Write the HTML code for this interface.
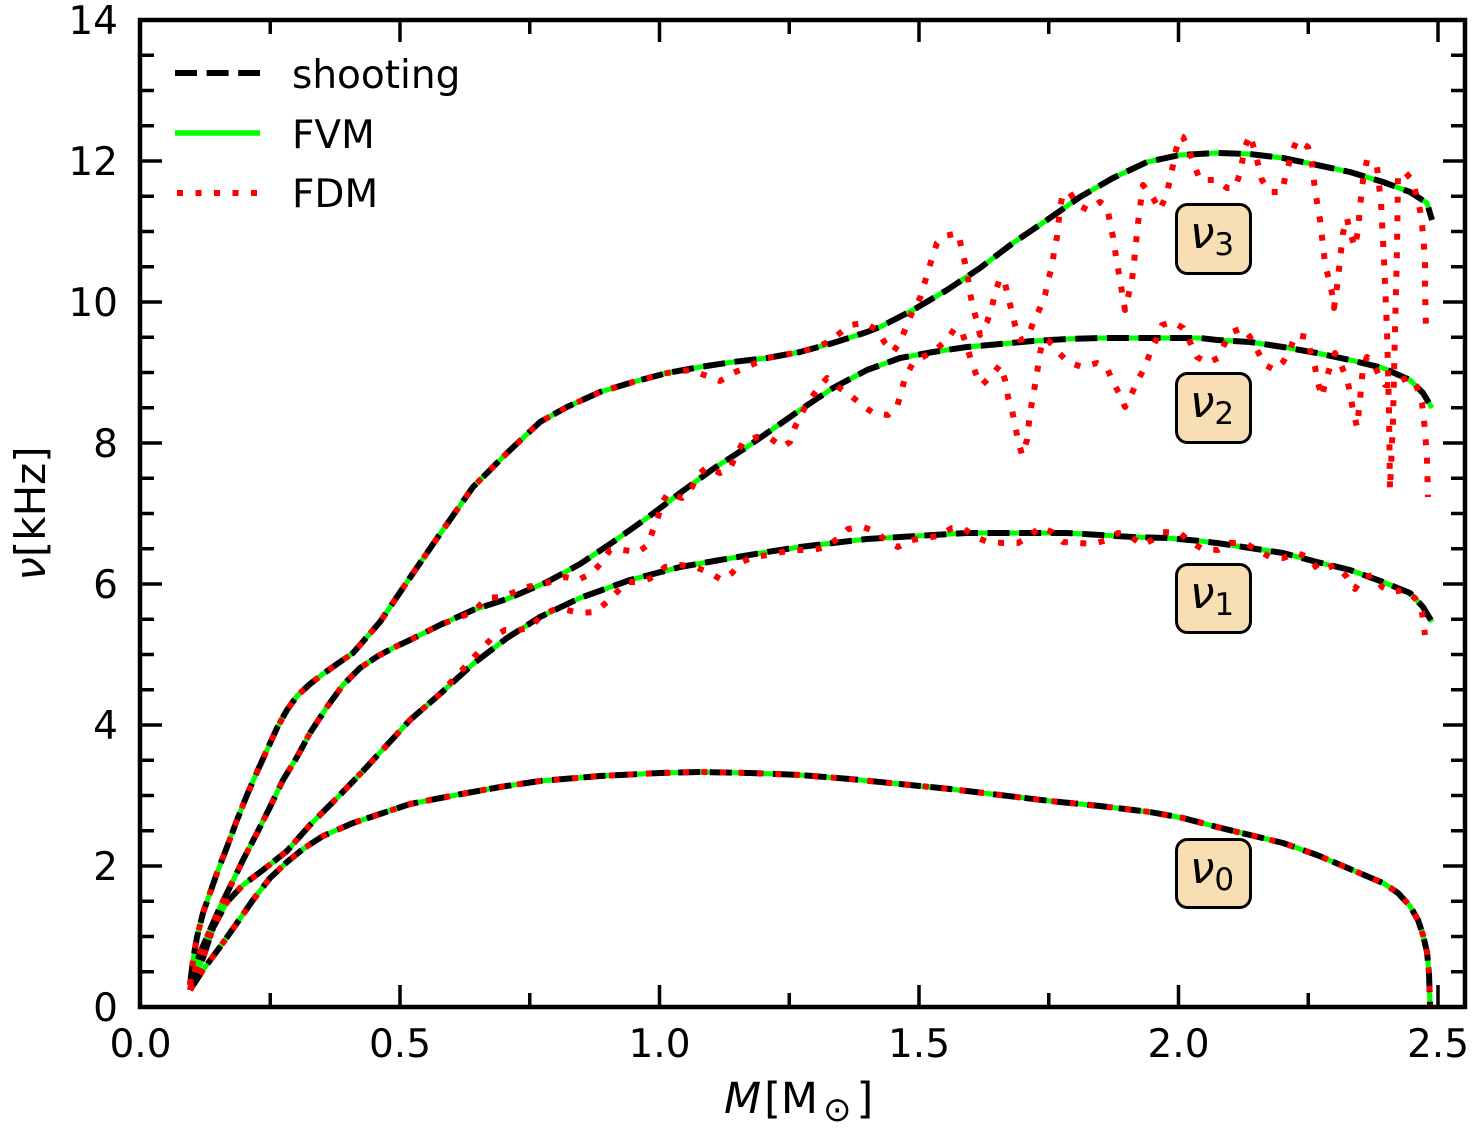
<!DOCTYPE html>
<html>
<head>
<meta charset="utf-8">
<style>
  html,body{margin:0;padding:0;background:#fff;}
  svg{display:block;}
  text{font-family:"DejaVu Sans","Liberation Sans",sans-serif;fill:#000;}
</style>
</head>
<body>
<svg width="1476" height="1131" viewBox="0 0 1476 1131" xmlns="http://www.w3.org/2000/svg">
<rect x="0" y="0" width="1476" height="1131" fill="#fff"/>
<defs>
  <clipPath id="plot"><rect x="140" y="20" width="1325" height="987"/></clipPath>
</defs>

<g clip-path="url(#plot)" fill="none" stroke-linejoin="round">
  <!-- FVM green -->
  <g stroke="#00ff00" stroke-width="5">
    <polyline points="190,990 203,970 220,947 237,923 253,900 270,878 287,862 303,849 323,836 353,823 377,815 410,804 456,795 500,787 540,781 600,776 660,773 700,772 750,773 800,775 850,779 900,784 950,789 1000,795 1050,801 1100,806 1150,812 1183,818 1217,827 1250,835 1283,843 1317,855 1350,869 1383,883 1398,893 1410,906 1418,920 1423,935 1427,952 1429,973 1430,1005"/>
    <polyline points="190,990 193,980 203,958 213,928 227,902 243,885 263,870 287,851 310,825 337,798 363,771 387,745 410,720 440,694 473,664 507,638 540,617 580,598 630,580 680,567 720,560 767,552 800,547 833,543 867,539 900,537 933,535 967,533 1000,533 1033,533 1067,533 1100,535 1133,537 1167,538 1200,541 1217,543 1250,548 1283,553 1317,562 1350,570 1383,582 1410,593 1423,607 1432,622"/>
    <polyline points="190,990 195,970 200,953 210,930 220,907 230,887 243,860 257,833 270,807 283,780 297,757 310,733 327,707 343,685 360,668 378,656 395,647 410,640 440,625 473,610 507,599 547,582 580,564 613,542 647,518 680,493 713,469 747,447 780,424 800,410 833,388 867,370 900,358 933,352 967,347 1000,344 1033,341 1067,339 1100,338 1133,338 1167,338 1200,338 1217,340 1250,342 1283,347 1317,353 1350,360 1383,368 1410,380 1423,393 1432,408"/>
    <polyline points="190,985 193,960 197,937 203,913 210,893 217,873 227,847 237,820 247,795 257,772 267,750 277,728 287,710 297,696 310,684 323,674 337,664 353,653 380,622 407,582 440,534 473,487 507,453 540,422 567,407 600,392 633,382 667,373 700,367 733,362 767,358 800,352 833,343 867,332 880,327 913,310 947,290 980,268 1013,243 1047,220 1080,197 1113,178 1147,162 1180,155 1217,153 1250,154 1283,158 1317,165 1350,172 1383,182 1410,192 1427,203 1432,220"/>
  </g>
  <!-- shooting black dashed -->
  <g stroke="#000" stroke-width="6" stroke-dasharray="22 9.6">
    <polyline points="190,990 203,970 220,947 237,923 253,900 270,878 287,862 303,849 323,836 353,823 377,815 410,804 456,795 500,787 540,781 600,776 660,773 700,772 750,773 800,775 850,779 900,784 950,789 1000,795 1050,801 1100,806 1150,812 1183,818 1217,827 1250,835 1283,843 1317,855 1350,869 1383,883 1398,893 1410,906 1418,920 1423,935 1427,952 1429,973 1430,1005"/>
    <polyline points="190,990 193,980 203,958 213,928 227,902 243,885 263,870 287,851 310,825 337,798 363,771 387,745 410,720 440,694 473,664 507,638 540,617 580,598 630,580 680,567 720,560 767,552 800,547 833,543 867,539 900,537 933,535 967,533 1000,533 1033,533 1067,533 1100,535 1133,537 1167,538 1200,541 1217,543 1250,548 1283,553 1317,562 1350,570 1383,582 1410,593 1423,607 1432,622"/>
    <polyline points="190,990 195,970 200,953 210,930 220,907 230,887 243,860 257,833 270,807 283,780 297,757 310,733 327,707 343,685 360,668 378,656 395,647 410,640 440,625 473,610 507,599 547,582 580,564 613,542 647,518 680,493 713,469 747,447 780,424 800,410 833,388 867,370 900,358 933,352 967,347 1000,344 1033,341 1067,339 1100,338 1133,338 1167,338 1200,338 1217,340 1250,342 1283,347 1317,353 1350,360 1383,368 1410,380 1423,393 1432,408"/>
    <polyline points="190,985 193,960 197,937 203,913 210,893 217,873 227,847 237,820 247,795 257,772 267,750 277,728 287,710 297,696 310,684 323,674 337,664 353,653 380,622 407,582 440,534 473,487 507,453 540,422 567,407 600,392 633,382 667,373 700,367 733,362 767,358 800,352 833,343 867,332 880,327 913,310 947,290 980,268 1013,243 1047,220 1080,197 1113,178 1147,162 1180,155 1217,153 1250,154 1283,158 1317,165 1350,172 1383,182 1410,192 1427,203 1432,220"/>
  </g>
  <!-- FDM red dotted -->
  <g stroke="#ff0000" stroke-width="6" stroke-dasharray="6 12.5">
    <polyline points="190,990 203,970 220,947 237,923 253,900 270,878 287,862 303,849 323,836 353,823 377,815 410,804 456,795 500,787 540,781 600,776 660,773 700,772 750,773 800,775 850,779 900,784 950,789 1000,795 1050,801 1100,806 1150,812 1183,818 1217,827 1250,835 1283,843 1317,855 1350,869 1383,883 1398,893 1410,906 1418,920 1423,935 1427,952 1429,973 1430,1005"/>
    <polyline points="190,990 193,980 203,958 213,928 227,902 243,885 263,870 287,851 310,825 337,798 363,771 387,745 410,720 440,694 473,658 493,637 505,630 518,630 530,628 540,617 553,610 567,610 580,613 595,612 607,602 617,592 627,582 642,582 653,577 665,567 680,565 695,567 708,572 722,580 732,573 742,562 753,557 768,555 782,552 797,550 812,550 827,547 838,538 848,529 863,527 877,532 887,542 898,547 912,540 925,538 938,536 952,528 963,528 975,537 988,542 1003,543 1018,543 1030,536 1040,527 1052,532 1063,542 1078,543 1093,544 1107,540 1118,533 1130,536 1142,545 1152,540 1163,532 1180,533 1190,542 1203,549 1218,550 1230,543 1245,543 1257,550 1270,557 1283,558 1297,553 1310,558 1318,570 1327,568 1335,565 1347,577 1355,589 1362,578 1373,575 1382,587 1393,592 1403,590 1415,598 1422,612 1425,635"/>
    <polyline points="190,990 195,970 200,953 210,930 220,907 230,887 243,860 257,833 270,807 283,780 297,757 310,733 327,707 343,685 360,668 378,656 395,647 410,640 440,625 473,612 487,598 502,597 527,587 547,583 565,577 578,580 592,573 602,562 610,550 623,550 638,552 648,545 653,530 658,517 662,503 668,493 682,498 692,487 698,475 707,467 720,473 730,468 743,442 757,437 770,438 782,447 790,442 795,427 802,413 808,402 817,390 827,378 838,387 850,395 862,405 873,413 888,415 897,407 905,378 913,363 923,357 935,350 947,340 955,328 962,332 967,347 972,363 977,377 982,385 992,375 1000,365 1005,380 1008,397 1012,410 1015,425 1018,440 1022,455 1027,440 1030,413 1033,397 1037,373 1040,353 1043,340 1048,340 1058,352 1068,362 1082,367 1097,363 1107,368 1113,382 1120,395 1125,407 1132,393 1138,380 1145,367 1150,353 1157,338 1162,325 1173,322 1183,328 1190,342 1197,357 1208,363 1218,358 1225,343 1232,332 1243,328 1250,337 1257,350 1265,365 1275,370 1283,362 1290,350 1295,335 1307,337 1310,350 1315,367 1318,383 1322,397 1325,383 1330,367 1335,353 1342,367 1348,383 1353,410 1357,427 1360,400 1363,367 1367,357 1375,367 1380,377 1385,385 1392,385 1397,383 1408,377 1417,387 1422,403 1425,430 1427,460 1428,497"/>
    <polyline points="190,985 193,960 197,937 203,913 210,893 217,873 227,847 237,820 247,795 257,772 267,750 277,728 287,710 297,696 310,684 323,674 337,664 353,653 380,622 407,582 440,534 473,487 507,453 540,422 567,407 600,392 633,382 667,373 690,370 707,376 720,381 733,373 767,358 800,352 815,348 828,342 840,333 850,325 865,323 877,330 885,343 893,352 900,342 907,325 913,310 920,298 927,275 932,258 937,243 945,236 958,233 962,250 965,263 968,278 970,293 973,307 977,322 980,335 987,322 992,307 995,293 1000,278 1005,283 1008,297 1012,312 1015,325 1020,340 1028,337 1033,323 1040,308 1045,295 1048,280 1052,267 1054,252 1057,237 1060,208 1063,193 1070,193 1078,205 1088,210 1100,202 1107,207 1110,222 1113,237 1117,263 1120,280 1125,310 1128,297 1132,280 1135,253 1138,223 1143,185 1153,198 1160,210 1167,193 1172,170 1176,150 1180,136 1183,137 1190,153 1195,167 1200,180 1217,180 1227,188 1235,188 1240,173 1245,147 1250,135 1255,152 1262,180 1270,192 1282,192 1285,178 1292,152 1297,140 1308,147 1312,163 1315,190 1320,220 1325,263 1332,293 1334,308 1337,287 1340,260 1343,233 1347,218 1350,233 1355,247 1358,230 1360,207 1363,180 1367,160 1377,167 1381,203 1384,260 1387,330 1389,410 1390,490 1393,420 1395,330 1397,250 1398,175 1405,172 1412,180 1417,197 1420,210 1423,233 1425,260 1425,290 1426,328"/>
  </g>
</g>

<!-- label boxes -->
<g stroke="#000" stroke-width="3" fill="#f8deb3">
  <rect x="1176.5" y="204.5" width="74" height="69" rx="11"/>
  <rect x="1176.5" y="373.5" width="74" height="69" rx="11"/>
  <rect x="1176.5" y="564.5" width="74" height="68" rx="11"/>
  <rect x="1176.5" y="839.5" width="74" height="68" rx="11"/>
</g>
<g font-size="44" text-anchor="middle">
  <text x="1212" y="248"><tspan font-style="italic">ν</tspan><tspan font-size="31" dy="7">3</tspan></text>
  <text x="1212" y="417"><tspan font-style="italic">ν</tspan><tspan font-size="31" dy="7">2</tspan></text>
  <text x="1212" y="608"><tspan font-style="italic">ν</tspan><tspan font-size="31" dy="7">1</tspan></text>
  <text x="1212" y="883"><tspan font-style="italic">ν</tspan><tspan font-size="31" dy="7">0</tspan></text>
</g>

<!-- legend -->
<g fill="none">
  <line x1="175" y1="73" x2="260" y2="73" stroke="#000" stroke-width="6" stroke-dasharray="22 9.6"/>
  <line x1="175" y1="133" x2="260" y2="133" stroke="#00ff00" stroke-width="5.5"/>
  <line x1="177" y1="193" x2="260" y2="193" stroke="#ff0000" stroke-width="6" stroke-dasharray="6 12.5"/>
</g>
<g font-size="39">
  <text x="292" y="88">shooting</text>
  <text x="292" y="148">FVM</text>
  <text x="292" y="207">FDM</text>
</g>

<!-- ticks -->
<g stroke="#000" stroke-width="3.5">
  <path d="M270.25,1007V993 M400,1007V985 M529.75,1007V993 M659.5,1007V985 M789.25,1007V993 M919,1007V985 M1048.75,1007V993 M1178.5,1007V985 M1308.25,1007V993 M1438,1007V985
           M270.25,20V34 M400,20V42 M529.75,20V34 M659.5,20V42 M789.25,20V34 M919,20V42 M1048.75,20V34 M1178.5,20V42 M1308.25,20V34 M1438,20V42"/>
  <path d="M140,971.75H154 M140,936.5H154 M140,901.25H154 M140,866H162 M140,830.75H154 M140,795.5H154 M140,760.25H154 M140,725H162 M140,689.75H154 M140,654.5H154 M140,619.25H154 M140,584H162 M140,548.75H154 M140,513.5H154 M140,478.25H154 M140,443H162 M140,407.75H154 M140,372.5H154 M140,337.25H154 M140,302H162 M140,266.75H154 M140,231.5H154 M140,196.25H154 M140,161H162 M140,125.75H154 M140,90.5H154 M140,55.25H154"/>
  <path d="M1465,971.75H1451 M1465,936.5H1451 M1465,901.25H1451 M1465,866H1443 M1465,830.75H1451 M1465,795.5H1451 M1465,760.25H1451 M1465,725H1443 M1465,689.75H1451 M1465,654.5H1451 M1465,619.25H1451 M1465,584H1443 M1465,548.75H1451 M1465,513.5H1451 M1465,478.25H1451 M1465,443H1443 M1465,407.75H1451 M1465,372.5H1451 M1465,337.25H1451 M1465,302H1443 M1465,266.75H1451 M1465,231.5H1451 M1465,196.25H1451 M1465,161H1443 M1465,125.75H1451 M1465,90.5H1451 M1465,55.25H1451"/>
</g>

<!-- spines -->
<rect x="140" y="20" width="1325" height="987" fill="none" stroke="#000" stroke-width="4.5"/>

<!-- tick labels -->
<g font-size="39" text-anchor="end">
  <text x="118" y="1021">0</text>
  <text x="118" y="880">2</text>
  <text x="118" y="739">4</text>
  <text x="118" y="598">6</text>
  <text x="118" y="457">8</text>
  <text x="118" y="316">10</text>
  <text x="118" y="175">12</text>
  <text x="118" y="34">14</text>
</g>
<g font-size="39" text-anchor="middle">
  <text x="140.5" y="1057">0.0</text>
  <text x="400" y="1057">0.5</text>
  <text x="659.5" y="1057">1.0</text>
  <text x="919" y="1057">1.5</text>
  <text x="1178.5" y="1057">2.0</text>
  <text x="1438" y="1057">2.5</text>
</g>

<!-- axis labels -->
<text x="724" y="1113" font-size="43"><tspan font-style="italic">M</tspan><tspan dx="3">[M</tspan><tspan font-size="34" dx="5" dy="8">⊙</tspan><tspan dx="5" dy="-8">]</tspan></text>
<text transform="translate(45,513.5) rotate(-90)" font-size="42" text-anchor="middle"><tspan font-style="italic">ν</tspan>[kHz]</text>
</svg>
</body>
</html>
